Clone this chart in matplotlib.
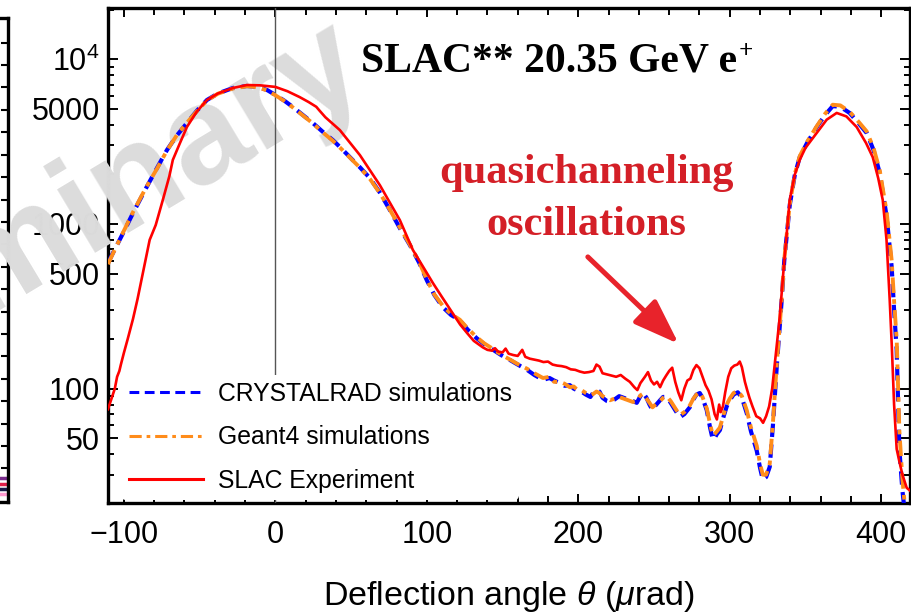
import numpy as np
import matplotlib
matplotlib.use("Agg")
import matplotlib.pyplot as plt
from matplotlib.ticker import FixedLocator, NullFormatter, FixedFormatter

plt.rcParams['font.family'] = ['Liberation Sans', 'DejaVu Sans']
plt.rcParams['mathtext.fontset'] = 'custom'
plt.rcParams['mathtext.rm'] = 'Liberation Sans'
plt.rcParams['mathtext.it'] = 'Liberation Sans:italic'

# ---------------- data ----------------
theta_exp = [-110.5, -108, -106, -104.5, -103, -102, -100, -97.5, -94, -91, -87, -83, -79,
             -74.3, -70, -67.7, -63, -58.4, -52, -45.2, -38, -28, -18.8, -10, 0, 8, 16, 22,
             27, 29, 33, 42.6, 55.8, 69, 82.2, 90.8, 98, 104, 110, 117, 122, 126.5, 131,
             137, 140, 143, 145, 147, 150, 152, 154, 157, 160, 163, 165, 168, 171, 174, 177,
             180, 183, 186, 189, 192, 195, 198, 201, 204, 207, 210, 212, 214, 216, 219, 222,
             225, 228, 231, 234, 237, 239, 241, 244, 246, 248, 250, 252, 254, 256, 258, 260,
             262, 264, 266, 268, 270, 272, 274, 276, 278, 280, 282, 284, 286, 288, 290, 291.5,
             293, 294, 295.5, 297, 299, 301, 303, 305, 306.6, 308, 310, 311.5, 313, 315, 317.5,
             320, 322, 324, 326, 328, 330, 333, 336, 339.6, 343, 346.2, 350, 357.4, 364, 370.6,
             377, 383.8, 390, 394.4, 398, 401, 403.5, 405.6, 407, 408.5, 410.2, 412, 414, 416.8,
             419]
counts_exp = [75, 88, 100, 118, 128, 140, 165, 200, 265, 350, 530, 800, 985,
              1400, 1950, 2450, 3100, 3880, 4800, 5660, 6200, 6700, 6980, 6950, 6800, 6400, 5900, 5500,
              5150, 4900, 4450, 3715, 2620, 1720, 1055, 695, 540, 438, 360, 288, 245, 218, 195,
              178, 172, 170, 176, 168, 166, 175, 163, 160, 158, 172, 156, 152, 150, 148, 145,
              146, 140, 138, 137, 135, 131, 130, 127, 125, 126, 128, 140, 136, 124, 122, 120,
              118, 121, 115, 110, 102, 98, 108, 118, 126, 112, 106, 110, 102, 112, 120, 128,
              134, 110, 95, 85, 100, 112, 115, 130, 139, 133, 118, 105, 97, 86, 70, 65,
              80, 72, 78, 95, 118, 133, 138, 140, 146, 135, 110, 98, 88, 78, 68,
              66, 62, 68, 78, 100, 150, 272, 600, 1400, 2000, 2450, 2900, 3570, 4300, 4725,
              4500, 3880, 3100, 2545, 1900, 1400, 800, 346, 180, 80, 43, 36, 30, 25,
              24]

theta_sim = [-110.5, -107.3, -100, -94, -85, -78, -71.6, -65, -58.4, -52, -45.2, -38, -28,
             -18.8, -12, -5.6, 0, 6, 11.6, 18, 24.8, 31, 38, 44, 49.2, 56, 62.4, 69, 75.6, 82,
             88.8, 95, 100, 105, 110.6, 116, 121.8, 127, 133, 138, 143.8, 149, 155, 160, 166.2,
             171, 176.7, 181, 184, 188, 191, 194.4, 197, 199, 202, 205, 208, 210, 212, 214, 216,
             219, 221, 224, 227, 230, 233, 236, 238.6, 241, 242.6, 245, 247, 249, 251, 254, 256,
             258.3, 261, 264, 267, 270, 273.6, 276, 278, 280.2, 282, 284.8, 287, 288.8, 290,
             291.5, 293.5, 296, 298, 300, 302.5, 305.3, 308, 311.2, 314, 317.8, 320, 321.8, 324,
             326.4, 328.5, 331, 334.3, 336, 339.6, 343, 346.2, 351, 357.4, 363, 368, 373, 379.2,
             385, 390.4, 395, 399, 403.6, 406.9, 408.5, 410.2, 412, 414, 415.5]
counts_crystalrad = [580, 665, 900, 1165, 1675, 2200, 2810, 3450, 4100, 4850, 5660, 6200, 6700,
                     6890, 6800, 6520, 6080, 5600, 5130, 4600, 4100, 3650, 3230, 2850, 2545, 2200, 1900, 1550, 1215, 950,
                     745, 580, 455, 370, 312, 280, 260, 228, 202, 186, 172, 160, 149, 140, 130,
                     121, 113, 116, 112, 108, 104, 105, 100, 98, 96, 92, 89, 95, 98, 96, 88,
                     84, 83, 86, 90, 88, 86, 84, 82, 90, 95, 88, 80, 74, 79, 85, 89,
                     89, 82, 74, 67, 70, 77, 86, 92, 94, 88, 74, 58, 49, 50,
                     53, 56, 68, 78, 85, 92, 95, 88, 71, 55, 42, 33, 28, 29,
                     33.5, 60, 135, 346, 600, 1300, 2000, 2545, 3100, 3880, 4600, 5200, 5150, 4720,
                     4100, 3570, 2800, 2040, 1105, 548, 300, 172, 42.5, 24, 18]
counts_geant4 = [570, 660, 910, 1180, 1690, 2180, 2790, 3470, 4120, 4820, 5620, 6180, 6650,
                 6860, 6780, 6480, 6050, 5580, 5100, 4580, 4080, 3620, 3200, 2830, 2530, 2190, 1880, 1540, 1220, 960,
                 750, 585, 460, 372, 318, 284, 262, 232, 205, 188, 174, 161, 150, 141, 132,
                 124, 116, 118, 110, 110, 107, 102, 103, 99, 98, 94, 91, 93, 96, 94, 90,
                 87, 85, 87, 89, 87, 85, 83, 84, 91, 93, 87, 82, 77, 80, 84, 88,
                 90, 84, 76, 69, 72, 79, 87, 92, 95, 89, 76, 61, 52, 53,
                 55, 58, 70, 80, 87, 94, 97, 90, 74, 58, 45, 35, 30, 30,
                 35, 62, 140, 350, 610, 1320, 2020, 2580, 3150, 3920, 4680, 5300, 5250, 4800,
                 4180, 3650, 2880, 2120, 1180, 600, 340, 200, 55, 28, 20]

labels = ['CRYSTALRAD simulations', 'Geant4 simulations', 'SLAC Experiment']
ytick_vals = [50, 100, 500, 1000, 5000, 10000]
ytick_labels = ['50', '100', '500', '1000', '5000', r'$10^4$']
xtick_vals = [-100, 0, 100, 200, 300, 400]

# neighbour panel (cut-off at left edge)
nb_ticks = list(range(1, 21))
nb_stripes = [0.55, 0.3, 0.1, -0.15]
nb_colors = ['#7a2c8c', '#e0204a', '#1a1a4a', '#ff9ad0']

# ---------------- figure ----------------
W, H = 911, 614
fig = plt.figure(figsize=(W / 100, H / 100), dpi=100)

def fx(px):
    return px / W

def fy(py):
    return 1 - py / H

# neighbour panel
axn = fig.add_axes([fx(-300), fy(502), fx(308), fy(18) - fy(502)])
axn.set_xlim(0, 1)
axn.set_ylim(-0.5, 21.1)
for s, c in zip(nb_stripes, nb_colors):
    axn.axhline(s, color=c, lw=2.5)
axn.yaxis.tick_right()
axn.set_yticks(nb_ticks)
axn.set_yticklabels([])
axn.set_xticks([])
axn.tick_params(axis='y', direction='in', length=5, width=1.5, right=True, left=False)
for sp in axn.spines.values():
    sp.set_linewidth(2.4)

# main axes
ax = fig.add_axes([fx(108), fy(503), fx(910) - fx(108), fy(8) - fy(503)])
ax.set_yscale('log')
ax.set_xlim(-110.5, 419)
ax.set_ylim(20.2, 20500)

ax.axvline(0, color='#555555', lw=1.0, zorder=2.8)

l1, = ax.plot(theta_sim, counts_crystalrad, color='#0000ff', lw=3.0, ls=(0, (3.2, 1.8)), zorder=3)
l2, = ax.plot(theta_sim, counts_geant4, color='#ff8c1a', lw=2.8, ls=(0, (4, 1.6, 1.2, 1.6)), zorder=3.2)
l3, = ax.plot(theta_exp, counts_exp, color='#ff0000', lw=1.9, zorder=3.4)

# ticks
ax.xaxis.set_major_locator(FixedLocator(xtick_vals))
ax.xaxis.set_minor_locator(FixedLocator([v for v in range(-100, 420, 20) if v % 100 != 0]))
ax.yaxis.set_major_locator(FixedLocator(ytick_vals))
ax.yaxis.set_major_formatter(FixedFormatter(ytick_labels))
minors = []
for dec in [10, 100, 1000, 10000]:
    for k in range(1, 10):
        v = k * dec
        if v not in ytick_vals and 20 <= v <= 20500:
            minors.append(v)
ax.yaxis.set_minor_locator(FixedLocator(minors))
ax.yaxis.set_minor_formatter(NullFormatter())
ax.tick_params(which='both', direction='in', top=True, right=True, width=1.4, colors='black')
ax.tick_params(axis='y', which='major', length=7.5, labelsize=22, pad=6)
ax.tick_params(axis='y', which='minor', length=4.5)
ax.tick_params(axis='x', which='major', length=6.5, labelsize=22, pad=12)
ax.tick_params(axis='x', which='minor', length=5)
for sp in ax.spines.values():
    sp.set_linewidth(2.4)

ax.set_xlabel(r'Deflection angle $\theta$ ($\mu$rad)', fontsize=24.5, labelpad=21)

# legend
leg = ax.legend([l1, l2, l3], labels, loc='lower left', bbox_to_anchor=(0.013, 0.0),
                fontsize=17.8, handlelength=3.0, handletextpad=0.6, labelspacing=0.78,
                frameon=True, facecolor='white', edgecolor='none', framealpha=1.0,
                borderpad=0.3, borderaxespad=0.12)
leg.set_zorder(5)
for h in leg.legend_handles:
    h.set_linewidth(2.2)

# title
serif = ['Liberation Serif', 'DejaVu Serif']
t = ax.text(0.55, 0.871, 'SLAC** 20.35 GeV e', transform=ax.transAxes, ha='center',
            va='baseline', fontsize=30, fontweight='bold', family=serif, zorder=6)
ax.annotate('+', xy=(1.0, 1.0), xycoords=t, xytext=(1, 2), textcoords='offset points',
            ha='left', va='top', fontsize=18, fontweight='bold', family=serif, zorder=6)

red_txt = '#d41f27'
ax.text(0.597, 0.646, 'quasichanneling', transform=ax.transAxes, ha='center', va='baseline',
        fontsize=30.5, fontweight='bold', family=serif, color=red_txt, zorder=6)
ax.text(0.597, 0.541, 'oscillations', transform=ax.transAxes, ha='center', va='baseline',
        fontsize=30.5, fontweight='bold', family=serif, color=red_txt, zorder=6)
ax.annotate('', xy=(266.3, 187), xytext=(206.3, 631),
            arrowprops=dict(arrowstyle='-|>,head_length=1.4,head_width=0.5', lw=3.6,
                            color='#e8232b', mutation_scale=20, shrinkA=0, shrinkB=0),
            zorder=6)

# watermark (under curves, over frame)
ax.text(fx(371), fy(82), 'Preliminary', transform=fig.transFigure, ha='right', va='baseline',
        rotation=31, rotation_mode='anchor', fontsize=100, fontweight='bold', color='#dcdcdc',
        clip_on=False, zorder=2.7)

fig.savefig('out.png', dpi=100)
